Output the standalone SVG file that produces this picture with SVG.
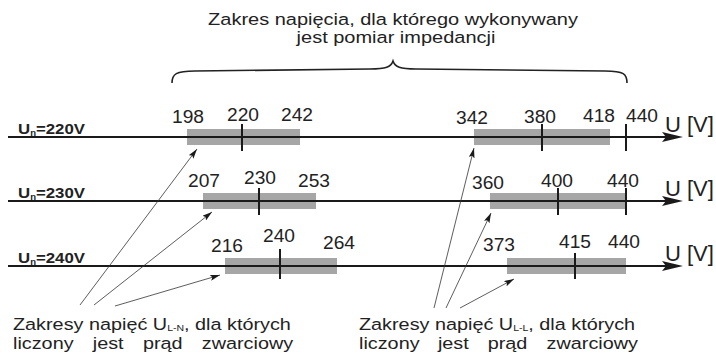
<svg xmlns="http://www.w3.org/2000/svg" width="716" height="357" viewBox="0 0 716 357">
<style>
text{font-family:"Liberation Sans",Arial,sans-serif;fill:#222}
.t{font-size:17px}
.num{font-size:18px;text-anchor:middle}
.uv{font-size:22px}
.un{font-size:15px;font-weight:bold}
.box{fill:#a6a6a6}
.axis{stroke:#1a1a1a;stroke-width:2.2;fill:none}
.tick{stroke:#1a1a1a;stroke-width:2;fill:none}
.head{fill:#1a1a1a}
.ptr{stroke:#333;stroke-width:0.8;fill:none;marker-end:url(#ah)}
.brace{stroke:#222;stroke-width:1.6;fill:none}
</style>
<defs>
<marker id="ah" viewBox="0 0 10 6" refX="10" refY="3" markerWidth="10" markerHeight="6" markerUnits="userSpaceOnUse" orient="auto">
<path d="M0,0 L10,3 L0,6 L2,3 Z" fill="#1a1a1a"/>
</marker>
</defs>

<g id="title">
<text class="t" transform="translate(393,25) scale(1.176,1)" text-anchor="middle">Zakres napięcia, dla którego wykonywany</text>
<text class="t" transform="translate(396,43) scale(1.176,1)" text-anchor="middle">jest pomiar impedancji</text>
<path class="brace" d="M172,83 C172,74 176,71 195,71 L370,69 C386,69 391,67 393,61 C395,67 400,69 416,69 L605,71 C624,71 627,74 627,83"/>
</g>

<g id="row220">
<rect class="box" x="187" y="129" width="113" height="16"/>
<rect class="box" x="474" y="129" width="136" height="16"/>
<path class="axis" d="M8,137 H666"/>
<path class="head" d="M662,132 L683,137 L662,142 L666,137 Z"/>
<path class="tick" d="M242,124 V151 M542,124 V151 M626,124 V151"/>
<text class="un" transform="translate(18,134) scale(1.12,1)">U<tspan font-size="8.5" dy="2">n</tspan><tspan dy="-2">=220V</tspan></text>
<text class="num" x="188" y="123" textLength="32" lengthAdjust="spacingAndGlyphs">198</text>
<text class="num" x="243" y="121" textLength="32" lengthAdjust="spacingAndGlyphs">220</text>
<text class="num" x="297" y="121" textLength="32" lengthAdjust="spacingAndGlyphs">242</text>
<text class="num" x="472" y="124" textLength="32" lengthAdjust="spacingAndGlyphs">342</text>
<text class="num" x="540" y="123" textLength="32" lengthAdjust="spacingAndGlyphs">380</text>
<text class="num" x="599" y="122" textLength="32" lengthAdjust="spacingAndGlyphs">418</text>
<text class="num" x="642" y="122" textLength="32" lengthAdjust="spacingAndGlyphs">440</text>
<text class="uv" x="665" y="132">U [V]</text>
</g>

<g id="row230">
<rect class="box" x="203" y="193" width="113" height="16"/>
<rect class="box" x="490" y="193" width="136" height="16"/>
<path class="axis" d="M8,201 H666"/>
<path class="head" d="M662,196 L683,201 L662,206 L666,201 Z"/>
<path class="tick" d="M259,188 V215 M558,188 V215 M626,188 V215"/>
<text class="un" transform="translate(18,198) scale(1.12,1)">U<tspan font-size="8.5" dy="2">n</tspan><tspan dy="-2">=230V</tspan></text>
<text class="num" x="204" y="187" textLength="32" lengthAdjust="spacingAndGlyphs">207</text>
<text class="num" x="260" y="184" textLength="32" lengthAdjust="spacingAndGlyphs">230</text>
<text class="num" x="314" y="187" textLength="32" lengthAdjust="spacingAndGlyphs">253</text>
<text class="num" x="488" y="189" textLength="32" lengthAdjust="spacingAndGlyphs">360</text>
<text class="num" x="557" y="187" textLength="32" lengthAdjust="spacingAndGlyphs">400</text>
<text class="num" x="623" y="187" textLength="32" lengthAdjust="spacingAndGlyphs">440</text>
<text class="uv" x="665" y="196">U [V]</text>
</g>

<g id="row240">
<rect class="box" x="225" y="258" width="112" height="16"/>
<rect class="box" x="507" y="258" width="119" height="16"/>
<path class="axis" d="M8,266 H666"/>
<path class="head" d="M662,261 L683,266 L662,271 L666,266 Z"/>
<path class="tick" d="M280,249 V279 M575,253 V279"/>
<text class="un" transform="translate(18,263) scale(1.12,1)">U<tspan font-size="8.5" dy="2">n</tspan><tspan dy="-2">=240V</tspan></text>
<text class="num" x="227" y="252" textLength="32" lengthAdjust="spacingAndGlyphs">216</text>
<text class="num" x="279" y="242" textLength="32" lengthAdjust="spacingAndGlyphs">240</text>
<text class="num" x="339" y="249" textLength="32" lengthAdjust="spacingAndGlyphs">264</text>
<text class="num" x="499" y="251" textLength="32" lengthAdjust="spacingAndGlyphs">373</text>
<text class="num" x="575" y="248" textLength="32" lengthAdjust="spacingAndGlyphs">415</text>
<text class="num" x="624" y="248" textLength="32" lengthAdjust="spacingAndGlyphs">440</text>
<text class="uv" x="665" y="261">U [V]</text>
</g>

<g id="connectors">
<path class="ptr" d="M80,305 L197,149"/>
<path class="ptr" d="M94,305 L212,212"/>
<path class="ptr" d="M115,306 L220,275"/>
<path class="ptr" d="M434,308 L474,148"/>
<path class="ptr" d="M446,308 L491,213"/>
<path class="ptr" d="M460,308 L514,279"/>
</g>

<g id="noteLN" transform="translate(13,0) scale(1.166,1)">
<text class="t" x="0" y="330">Zakresy napięć U<tspan font-size="9" dy="1">L-N</tspan><tspan dy="-1">, dla których</tspan></text>
<text class="t" y="349"><tspan x="0">liczony</tspan><tspan x="68.4">jest</tspan><tspan x="111.4">prąd</tspan><tspan x="161.9">zwarciowy</tspan></text>
</g>

<g id="noteLL" transform="translate(359,0) scale(1.166,1)">
<text class="t" x="0" y="330">Zakresy napięć U<tspan font-size="9" dy="1">L-L</tspan><tspan dy="-1">, dla których</tspan></text>
<text class="t" y="349"><tspan x="0">liczony</tspan><tspan x="67.7">jest</tspan><tspan x="110.4">prąd</tspan><tspan x="160.9">zwarciowy</tspan></text>
</g>
</svg>
